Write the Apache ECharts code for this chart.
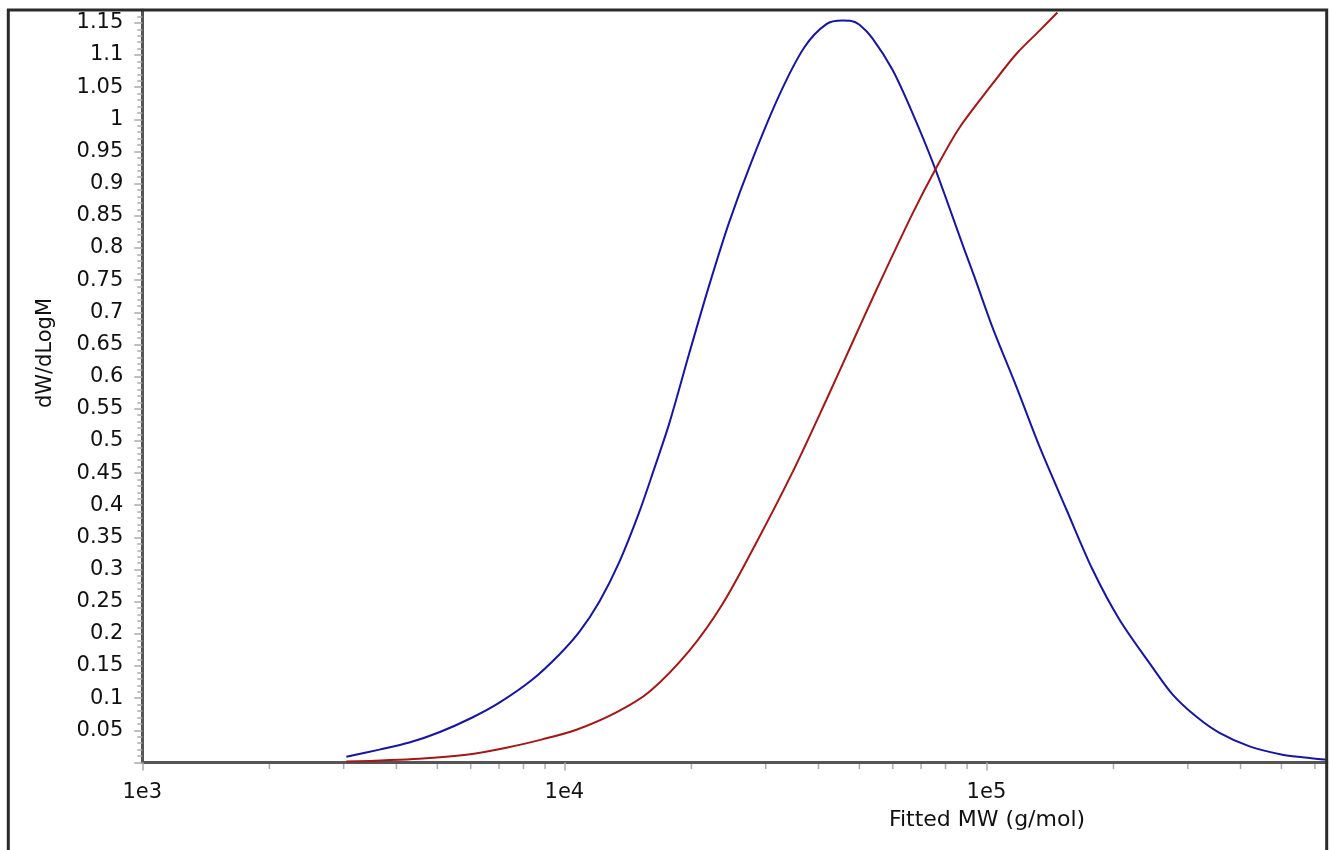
<!DOCTYPE html>
<html>
<head>
<meta charset="utf-8">
<script src="https://cdn.jsdelivr.net/npm/echarts@6/dist/echarts.min.js"></script>
<style>html,body{margin:0;padding:0;background:#fff}#c{width:1330px;height:850px}</style>
</head>
<body>
<div id="c"></div>
<script>
// ---- data ----
const blueMW = [3044, 3645, 4292, 5055, 6053, 7015, 8400, 9732, 10850, 12100, 13500, 15060, 16350, 17740, 19780, 22060, 24600, 27750, 32320, 37040, 41770, 45600, 47870, 50030, 53700, 59900, 66770, 75320, 88710, 93680, 103300, 117800, 133600, 154800, 178400, 206700, 247400, 275900, 314600, 356600, 420100, 502700, 560900, 632300, 640000];
const blueValues = [0.009, 0.020, 0.031, 0.047, 0.070, 0.093, 0.129, 0.168, 0.203, 0.250, 0.312, 0.390, 0.458, 0.528, 0.637, 0.743, 0.841, 0.934, 1.038, 1.112, 1.148, 1.1535, 1.153, 1.147, 1.126, 1.077, 1.010, 0.926, 0.797, 0.755, 0.677, 0.584, 0.491, 0.393, 0.300, 0.222, 0.148, 0.106, 0.071, 0.046, 0.025, 0.012, 0.008, 0.0045, 0.004];
const redMW = [3044, 4533, 5859, 7289, 8869, 10680, 13280, 15900, 19780, 23680, 28510, 34700, 41770, 48140, 54880, 66770, 76120, 86300, 103300, 117800, 133600, 147300];
const redValues = [0.0014, 0.006, 0.012, 0.023, 0.036, 0.051, 0.078, 0.110, 0.174, 0.246, 0.342, 0.451, 0.564, 0.653, 0.735, 0.853, 0.925, 0.987, 1.055, 1.102, 1.138, 1.166];
const xMinorTicks = [2000, 3000, 4000, 5000, 6000, 7000, 8000, 9000, 20000, 30000, 40000, 50000, 60000, 70000, 80000, 90000, 200000, 300000, 400000, 500000, 600000];
const xMin = 1000, xMax = 640000;
const yMin = 0, yMax = 1.17, yInterval = 0.05, yMinorInterval = 0.01;
const xName = 'Fitted MW (g/mol)';
const yName = 'dW/dLogM';

const FONT = 'DejaVu Sans';
const zip = (a, b) => a.map((v, i) => [v, b[i]]);

const chart = echarts.init(document.getElementById('c'), null, {renderer: 'canvas'});
chart.setOption({
  animation: false,
  backgroundColor: '#fff',
  grid: {left: 142.3, right: 3.3, top: 10, bottom: 87.5, outerBoundsMode: 'none'},
  xAxis: {
    type: 'log', logBase: 10, min: xMin, max: xMax,
    axisLine: {show: true, onZero: false, lineStyle: {color: '#555', width: 3}},
    axisTick: {show: true, length: 8, lineStyle: {color: '#aaa', width: 1.5}},
    minorTick: {show: false},
    splitLine: {show: false},
    axisLabel: {
      margin: 20, fontFamily: FONT, fontSize: 21, color: '#111',
      showMaxLabel: false,
      formatter: v => {
        const e = Math.log10(v);
        return Math.abs(e - Math.round(e)) < 1e-6 ? '1e' + Math.round(e) : '';
      }
    }
  },
  yAxis: [{
    type: 'value', min: yMin, max: yMax, interval: yInterval,
    axisLine: {show: true, lineStyle: {color: '#555', width: 3}},
    axisTick: {show: true, length: 8, lineStyle: {color: '#aaa', width: 1.5}},
    splitLine: {show: false},
    axisLabel: {
      margin: 19, fontFamily: FONT, fontSize: 21, color: '#111',
      showMaxLabel: false,
      formatter: v => (v === 0 ? '' : String(+v.toFixed(2)))
    }
  }, {
    type: 'value', min: yMin, max: yMax, interval: yMinorInterval, position: 'left',
    axisLine: {show: false},
    axisTick: {show: true, length: 5, lineStyle: {color: '#aaa', width: 1.5}},
    axisLabel: {show: false},
    splitLine: {show: false}
  }],
  series: [{
    type: 'line', name: 'dW/dLogM', data: zip(blueMW, blueValues),
    showSymbol: false, smooth: 0.3, clip: true,
    lineStyle: {color: '#1515a8', width: 2}, z: 3
  }, {
    type: 'line', name: 'cumulative', data: zip(redMW, redValues),
    showSymbol: false, smooth: 0.3, clip: true,
    lineStyle: {color: '#a81515', width: 2}, z: 3
  }, {
    type: 'custom', name: 'xMinorTicks', data: xMinorTicks.map(v => [v, 0]),
    clip: false, silent: true, z: 1,
    renderItem: (params, api) => {
      const p = api.coord([api.value(0), api.value(1)]);
      return {type: 'line', shape: {x1: p[0], y1: p[1] + 1.5, x2: p[0], y2: p[1] + 6.5},
              style: {stroke: '#aaa', lineWidth: 1.5}};
    }
  }],
  graphic: [
    {type: 'rect', shape: {x: 8.3, y: 10, width: 1318.4, height: 900}, style: {fill: null, stroke: '#2a2a2a', lineWidth: 3}, z: 100, silent: true},
    {type: 'text', x: 987, y: 820, style: {text: xName, font: '22px "DejaVu Sans"', fill: '#111', textAlign: 'center', textVerticalAlign: 'middle'}},
    {type: 'text', x: 46, y: 353, rotation: Math.PI / 2, style: {text: yName, font: '21px "DejaVu Sans"', fill: '#111', textAlign: 'center', textVerticalAlign: 'middle'}}
  ]
});
</script>
</body>
</html>
